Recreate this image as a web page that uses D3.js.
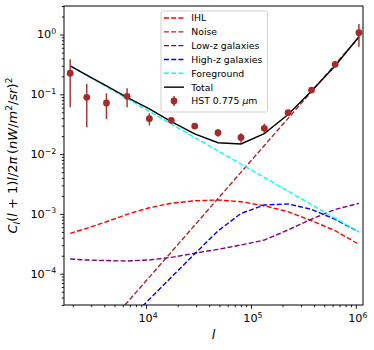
<!DOCTYPE html>
<html lang="en">
<head>
<meta charset="UTF-8">
<script src="https://d3js.org/d3.v7.min.js"></script>
<style>
  body { margin: 0; background: #fff; font-family: "DejaVu Sans", sans-serif; }
  svg { display: block; }
</style>
</head>
<body>
<svg width="374" height="350"></svg>
<script>
// multipole bins shared by the model curves and the HST points
const ell = [1890, 2720, 4190, 6590, 10750, 17400, 29100, 48500, 80300, 134000, 226000, 378000, 635000, 1070000];

const ihl   = [4.74e-4, 5.75e-4, 7.41e-4, 9.86e-4, 1.27e-3, 1.51e-3, 1.66e-3, 1.71e-3, 1.60e-3, 1.37e-3, 1.09e-3, 7.7e-4, 5.25e-4, 3.10e-4];
const lowZ  = [1.76e-4, 1.70e-4, 1.66e-4, 1.63e-4, 1.70e-4, 1.88e-4, 2.20e-4, 2.56e-4, 3.02e-4, 3.66e-4, 5.4e-4, 8.2e-4, 1.19e-3, 1.50e-3];
const highZ = [null, null, null, 1.6e-5, 3.73e-5, 8.75e-5, 2.15e-4, 5.2e-4, 1.02e-3, 1.41e-3, 1.47e-3, 1.19e-3, 8.1e-4, 5.0e-4];
const total = [0.30, 0.21, 0.138, 0.089, 0.057, 0.035, 0.0218, 0.0155, 0.0148, 0.0221, 0.046, 0.114, 0.30, 0.92];

// power laws: straight in log-log, read at their ends
const noiseEll = [6300, 1070000];
const noise    = [3.0e-5, 0.9];
const fgEll    = [1890, 1070000];
const fg       = [0.30, 5.0e-4];

// HST 0.775 um points
const hst    = [0.225, 0.089, 0.0716, 0.0927, 0.0391, 0.0368, 0.0295, 0.0228, 0.019, 0.027, 0.0493, 0.118, 0.318, 1.07];
const hstLo  = [0.0607, 0.0281, 0.0387, 0.0607, 0.0303, 0.0319, 0.027, 0.0196, 0.0155, 0.0228, 0.044, 0.111, 0.302, 0.625];
const hstHi  = [0.385, 0.149, 0.104, 0.126, 0.0482, 0.0412, 0.032, 0.026, 0.0223, 0.0322, 0.0547, 0.125, 0.335, 1.50];

const legendNames = ["IHL", "Noise", "Low-z galaxies", "High-z galaxies", "Foreground", "Total"];

const svg = d3.select("svg");
const L = 64, R = 363, T = 6, B = 305;

const x = d3.scaleLog().domain([1650, 1.17e6]).range([L, R]);
const y = d3.scaleLog().domain([3e-5, 3]).range([B, T]);

svg.append("defs").append("clipPath").attr("id", "clip")
  .append("rect").attr("x", L).attr("y", T).attr("width", R - L).attr("height", B - T);

const plot = svg.append("g").attr("clip-path", "url(#clip)");

const line = d3.line()
  .defined(d => d[1] != null)
  .x(d => x(d[0]))
  .y(d => y(d[1]));

const series = [
  {xs: ell, ys: ihl, color: "#ff0000", dash: "5,2.2"},
  {xs: noiseEll, ys: noise, color: "#a52a2a", dash: "5,2.2"},
  {xs: ell, ys: lowZ, color: "#800080", dash: "5,2.2"},
  {xs: ell, ys: highZ, color: "#0000ff", dash: "5,2.2"},
  {xs: fgEll, ys: fg, color: "#00ffff", dash: "5,2.2"},
  {xs: ell, ys: total, color: "#000000", dash: null}
];

series.forEach(s => {
  plot.append("path")
    .datum(s.xs.map((v, i) => [v, s.ys[i]]))
    .attr("d", line)
    .attr("fill", "none")
    .attr("stroke", s.color)
    .attr("stroke-width", 1.4)
    .attr("stroke-dasharray", s.dash);
});

// error bars and markers
plot.selectAll(".err").data(ell).enter().append("line")
  .attr("x1", d => x(d)).attr("x2", d => x(d))
  .attr("y1", (d, i) => y(hstLo[i])).attr("y2", (d, i) => y(hstHi[i]))
  .attr("stroke", "#a52a2a").attr("stroke-width", 1.4);
plot.selectAll(".pt").data(ell).enter().append("circle")
  .attr("cx", d => x(d)).attr("cy", (d, i) => y(hst[i]))
  .attr("r", 3.4).attr("fill", "#a52a2a");

// axes
function decadesIn(lo, hi) {
  const out = [];
  for (let k = Math.ceil(Math.log10(lo)); k <= Math.floor(Math.log10(hi)); k++) out.push(k);
  return out;
}
function minorsIn(lo, hi) {
  const out = [];
  for (let k = Math.floor(Math.log10(lo)); k <= Math.ceil(Math.log10(hi)); k++)
    for (let m = 2; m <= 9; m++) {
      const v = m * Math.pow(10, k);
      if (v >= lo && v <= hi * 1.0001) out.push(v);
    }
  return out;
}
const xDec = decadesIn(1650, 1.17e6);
const yDec = decadesIn(3e-5, 3);

const gx = svg.append("g").attr("transform", `translate(0,${B})`);
gx.call(d3.axisBottom(x).tickValues(minorsIn(1650, 1.17e6)).tickSize(2.2).tickSizeOuter(0).tickFormat(""));
gx.call(g => g.append("g").call(d3.axisBottom(x).tickValues(xDec.map(k => Math.pow(10, k))).tickSize(3.9).tickSizeOuter(0).tickFormat("")));
const gy = svg.append("g").attr("transform", `translate(${L},0)`);
gy.call(d3.axisLeft(y).tickValues(minorsIn(3e-5, 3)).tickSize(2.2).tickSizeOuter(0).tickFormat(""));
gy.call(g => g.append("g").call(d3.axisLeft(y).tickValues(yDec.map(k => Math.pow(10, k))).tickSize(3.9).tickSizeOuter(0).tickFormat("")));
svg.selectAll(".domain").remove();
svg.selectAll(".tick line").attr("stroke", "#000").attr("stroke-width", 0.9);

svg.append("rect").attr("x", L).attr("y", T).attr("width", R - L).attr("height", B - T)
  .attr("fill", "none").attr("stroke", "#000").attr("stroke-width", 1);

function powLabel(t, k) {
  t.append("tspan").text("10");
  t.append("tspan").attr("font-size", "7.8px").attr("dy", "-4.5").text(k < 0 ? "\u2212" + (-k) : String(k));
}
xDec.forEach(k => {
  const t = svg.append("text").attr("x", x(Math.pow(10, k)) + 2).attr("y", 322.3)
    .attr("text-anchor", "middle").attr("font-size", "11.2px").attr("fill", "#000");
  powLabel(t, k);
});
yDec.forEach(k => {
  const t = svg.append("text").attr("x", 56.2).attr("y", y(Math.pow(10, k)) + 3.9)
    .attr("text-anchor", "end").attr("font-size", "11.2px").attr("fill", "#000");
  powLabel(t, k);
});

// axis labels (mathtext style)
svg.append("text").attr("x", (L + R) / 2).attr("y", 339)
  .attr("text-anchor", "middle").attr("font-size", "13px").attr("font-style", "italic").text("l");

const ylab = svg.append("text").attr("transform", `translate(17,${(T + B) / 2}) rotate(-90)`)
  .attr("text-anchor", "middle").attr("font-size", "13px");
const pieces = [
  ["C", "i", 0], ["l", "i", 3], ["(", "n", 0], ["l", "i", 0], [" + 1)", "n", 0], ["l", "i", 0],
  ["/2", "n", 0], ["\u03c0", "i", 0], ["\u2009(", "n", 0], ["nW", "i", 0], ["/", "n", 0], ["m", "i", 0],
  ["2", "n", -5], ["/", "n", 0], ["sr", "i", 0], [")", "n", 0], ["2", "n", -5]
];
let shift = 0;
pieces.forEach(p => {
  const ts = ylab.append("tspan").text(p[0]).attr("dy", p[2] - shift);
  if (p[1] === "i") ts.attr("font-style", "italic");
  if (p[2] !== 0) ts.attr("font-size", "9.1px");
  shift = p[2];
});

// legend
const lg = svg.append("g");
lg.append("rect").attr("x", 161).attr("y", 11).attr("width", 106.5).attr("height", 101)
  .attr("rx", 2).attr("fill", "#fff").attr("fill-opacity", 0.8).attr("stroke", "#cccccc").attr("stroke-width", 0.9);
const rowY = i => 18 + i * 13.83;
series.forEach((s, i) => {
  lg.append("line").attr("x1", 164).attr("x2", 184).attr("y1", rowY(i)).attr("y2", rowY(i))
    .attr("stroke", s.color).attr("stroke-width", 1.4).attr("stroke-dasharray", s.dash);
  lg.append("text").attr("x", 191.3).attr("y", rowY(i) + 3.4).attr("font-size", "9.3px").text(legendNames[i]);
});
lg.append("line").attr("x1", 174).attr("x2", 174).attr("y1", rowY(6) - 5).attr("y2", rowY(6) + 5)
  .attr("stroke", "#a52a2a").attr("stroke-width", 1.4);
lg.append("circle").attr("cx", 174).attr("cy", rowY(6)).attr("r", 3.4).attr("fill", "#a52a2a");
const ht = lg.append("text").attr("x", 191.3).attr("y", rowY(6) + 3.4).attr("font-size", "9.3px");
ht.append("tspan").text("HST 0.775 ");
ht.append("tspan").attr("font-style", "italic").text("\u03bc");
ht.append("tspan").text("m");
</script>
</body>
</html>
